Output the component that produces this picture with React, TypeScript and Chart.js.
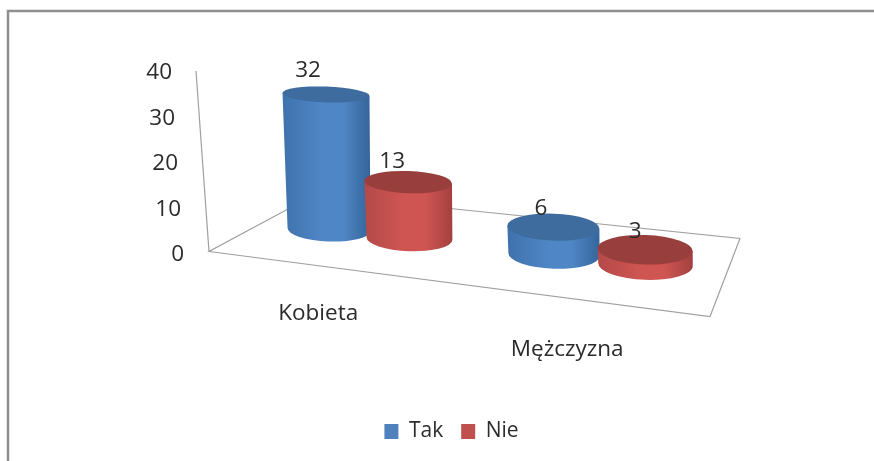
import React, { useEffect, useRef } from "react";
import { Chart, registerables } from "chart.js";

Chart.register(...registerables);

const categories = ["Kobieta", "Mężczyzna"];
const tak = [32, 6];
const nie = [13, 3];
const seriesNames = ["Tak", "Nie"];
const yTicks = [0, 10, 20, 30, 40];

const FONT = "'Open Sans', sans-serif";
const TEXT = "#2b2b2b";

const palettes = [
  { swatch: "#4f81bd", edgeL: "#3f72ab", mid: "#4f86c6", edgeR: "#35659b", top: "#3e6c9f" },
  { swatch: "#c0504d", edgeL: "#b34a48", mid: "#cf5552", edgeR: "#a34140", top: "#983f3d" },
];

const sketch3d = {
  id: "sketch3d",
  beforeDatasetsDraw(chart: any) {
    const ctx = chart.ctx as CanvasRenderingContext2D;
    const area = chart.chartArea;
    const xs = chart.scales.x;
    const ys = chart.scales.y;
    const y0 = ys.getPixelForValue(0);
    const yMax = ys.getPixelForValue(40);

    // picture frame
    ctx.save();
    ctx.strokeStyle = "#8f8f8f";
    ctx.lineWidth = 2.5;
    ctx.beginPath();
    ctx.moveTo(8, chart.height);
    ctx.lineTo(8, 11);
    ctx.lineTo(chart.width, 11);
    ctx.stroke();

    // 3D floor and vertical axis
    const L = area.left;
    const corner = { x: L - 45, y: y0 - 2 };
    ctx.strokeStyle = "#a0a0a0";
    ctx.lineWidth = 1.2;
    ctx.beginPath();
    ctx.moveTo(corner.x, corner.y);
    ctx.lineTo(L + 456, y0 + 63);
    ctx.lineTo(L + 486, y0 - 15);
    ctx.lineTo(L + 61, y0 - 59);
    ctx.closePath();
    ctx.moveTo(L - 58, yMax - 1);
    ctx.lineTo(corner.x, corner.y);
    ctx.stroke();

    // y tick labels follow the leaning axis
    ctx.fillStyle = TEXT;
    ctx.font = `22.5px ${FONT}`;
    ctx.textAlign = "right";
    ctx.textBaseline = "middle";
    yTicks.forEach((v) => {
      const py = ys.getPixelForValue(v);
      const right = L - 70 - ((y0 - py) / (y0 - yMax)) * 12;
      ctx.fillText(String(v), right, py + 1);
    });

    // category labels sit ahead of the floor
    ctx.textAlign = "center";
    ctx.font = `22.5px ${FONT}`;
    categories.forEach((c, i) => {
      const px = xs.getPixelForValue(i);
      ctx.fillText(c, px - 51 + 0.08 * (px - xs.getPixelForValue(0)), y0 + 60 + 0.156 * (px - xs.getPixelForValue(0)));
    });

    // cylinders, drawn back to front from each bar element
    const labels: { text: string; x: number; y: number }[] = [];
    const unit = 0.93;
    const mid = (area.left + area.right) / 2;
    categories.forEach((_, i) => {
      const groupX = xs.getPixelForValue(i);
      const persp = 1 + (groupX - mid) * 0.00056;
      chart.data.datasets.forEach((ds: any, d: number) => {
        const bar = chart.getDatasetMeta(d).data[i] as any;
        const pal = palettes[d];
        const bx = groupX + (bar.x - groupX) * persp;
        const raw = (bar.base - bar.y) * unit;
        const h = raw + 2.5 * (1 - raw / 133);
        const by = y0 - 24 + 0.111 * (bx - (area.left + 75));
        const s = 1 + (bx - (mid + 8)) * 0.000413;
        const rxB = (bar.width / 2) * s;
        const ryB = 12 + 0.01 * (bx - (area.left + 75));
        const rxT = rxB + 0.015 * h;
        const ryT = ryB - 0.03 * h;
        const tx = bx - 0.0225 * h;
        const ty = by - h;
        const rot = 0.035;
        const c = Math.cos(rot);
        const sn = Math.sin(rot);

        const g = ctx.createLinearGradient(tx - rxT, 0, tx + rxT, 0);
        g.addColorStop(0, pal.edgeL);
        g.addColorStop(0.45, pal.mid);
        g.addColorStop(0.7, pal.mid);
        g.addColorStop(1, pal.edgeR);
        ctx.fillStyle = g;
        ctx.beginPath();
        ctx.moveTo(tx - rxT * c, ty - rxT * sn);
        ctx.lineTo(bx - rxB * c, by - rxB * sn);
        ctx.ellipse(bx, by, rxB, ryB, rot, Math.PI, 0, true);
        ctx.lineTo(tx + rxT * c, ty + rxT * sn);
        ctx.closePath();
        ctx.fill();

        ctx.fillStyle = pal.top;
        ctx.beginPath();
        ctx.ellipse(tx, ty, rxT, ryT, rot, 0, Math.PI * 2);
        ctx.fill();

        labels.push({
          text: String(ds.data[i]),
          x: tx - 18 + 0.025 * (bx - (area.left + 75)),
          y: ty - 17.5 - 0.045 * h,
        });
      });
    });

    ctx.fillStyle = TEXT;
    ctx.font = `22.5px ${FONT}`;
    ctx.textAlign = "center";
    ctx.textBaseline = "middle";
    labels.forEach((l) => ctx.fillText(l.text, l.x, l.y));
    ctx.restore();
    return false;
  },
};

export default function App() {
  const ref = useRef<HTMLCanvasElement>(null);
  useEffect(() => {
    const chart = new Chart(ref.current!, {
      type: "bar",
      data: {
        labels: categories,
        datasets: [
          { label: seriesNames[0], data: tak, backgroundColor: palettes[0].swatch, borderWidth: 0 },
          { label: seriesNames[1], data: nie, backgroundColor: palettes[1].swatch, borderWidth: 0 },
        ],
      },
      options: {
        animation: false,
        responsive: false,
        categoryPercentage: 0.746,
        barPercentage: 1.035,
        layout: { padding: { left: 188, right: 159, top: 72, bottom: 9 } },
        scales: {
          x: {
            grid: { display: false },
            border: { display: false },
            ticks: { display: false },
            afterFit: (s: any) => {
              s.height = 149.5;
            },
          },
          y: {
            min: 0,
            max: 40,
            afterBuildTicks: (s: any) => {
              s.ticks = yTicks.map((value) => ({ value }));
            },
            grid: { display: false },
            border: { display: false },
            ticks: { display: false },
            afterFit: (s: any) => {
              s.width = 66;
            },
          },
        },
        plugins: {
          tooltip: { enabled: false },
          legend: {
            position: "bottom",
            labels: {
              boxWidth: 14,
              boxHeight: 15,
              padding: 18,
              color: TEXT,
              font: { family: "'Open Sans', sans-serif", size: 21 },
            },
          },
        },
      } as any,
      plugins: [sketch3d],
    });
    return () => chart.destroy();
  }, []);
  return (
    <canvas
      ref={ref}
      width={874}
      height={461}
      style={{ position: "fixed", left: 0, top: 0, width: 874, height: 461, background: "#fff", filter: "blur(0.45px)" }}
    />
  );
}
